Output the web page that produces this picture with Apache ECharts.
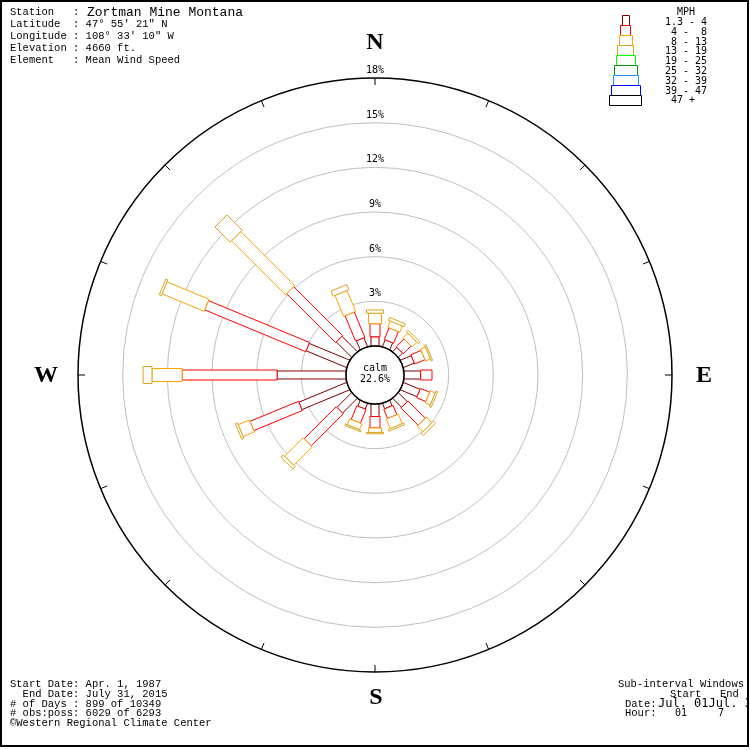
<!DOCTYPE html>
<html><head><meta charset="utf-8">
<script src="https://cdn.jsdelivr.net/npm/echarts@6/dist/echarts.min.js"></script>
<style>html,body{margin:0;padding:0;background:#fff}#c{width:750px;height:750px}</style>
</head><body><div id="c"></div>
<script>
// ---- data ----
const directions = ['N','NNE','NE','ENE','E','ESE','SE','SSE','S','SSW','SW','WSW','W','WNW','NW','NNW'];
const directionAngles = [0,22.5,45,67.5,90,112.5,135,157.5,180,202.5,225,247.5,270,292.5,315,337.5];
const speedClasses = ['1.3 - 4',' 4 -  8',' 8 - 13','13 - 19','19 - 25','25 - 32','32 - 39','39 - 47',' 47 +'];
// percent of observations per direction for each speed class
const mph1to4   = [0.62,0.50,0.40,0.80,1.12,1.22,0.85,0.40,0.84,0.42,1.40,3.48,4.63,2.95,1.46,0.65];
const mph4to8   = [0.88,0.85,0.75,0.75,0.76,0.68,1.65,0.68,0.77,1.00,3.05,3.52,6.38,7.35,4.66,1.85];
const mph8to13  = [0.70,0.45,0.45,0.35,0.00,0.35,0.52,0.70,0.30,0.43,1.75,0.82,2.02,3.05,5.12,1.52];
const mph13to19 = [0.22,0.20,0.15,0.10,0.00,0.12,0.20,0.12,0.09,0.10,0.22,0.15,0.60,0.15,1.44,0.37];
const ringValues = [3,6,9,12,15];
const ringLabels = [3,6,9,12,15,18];
const calmPercent = '22.6%';

// ---- styles ----
const classColors = ['#800000','#ff0000','#ffa500','#daa520','#00ff00','#009900','#1e90ff','#0000ff','#000000'];
const classWidths = [8,10,13,17];
const legendWidths = [7,10,13,16,19,23,25,29,32];

const classSeries = [mph1to4, mph4to8, mph8to13, mph13to19];
const barData = [];
directions.forEach((d, i) => {
  let start = 0;
  classSeries.forEach((arr, k) => {
    const v = arr[i];
    if (v > 0) barData.push([start, start + v, directionAngles[i], k]);
    start += v;
  });
});

const chart = echarts.init(document.getElementById('c'), null, {renderer: 'canvas'});
const monoSans = '10px "DejaVu Sans Mono"';
const mono = '10.5px "Liberation Mono"';

function txt(text, x, y, font, extra) {
  return Object.assign({type: 'text', silent: true, style: Object.assign({
    text: text, x: x, y: y, font: font, fill: '#000',
    textAlign: 'left', align: 'left', textVerticalAlign: 'middle', verticalAlign: 'middle'
  }, extra || {})});
}

const graphics = [];
// header
const hdr = ['Station   : ', 'Latitude  : 47° 55\' 21" N', 'Longitude : 108° 33\' 10" W', 'Elevation : 4660 ft.', 'Element   : Mean Wind Speed'];
const hdrY = [12.5, 24.5, 36.5, 48.5, 60.5];
hdr.forEach((t, i) => graphics.push(txt(t, 10, hdrY[i], mono)));
graphics.push(txt('Zortman Mine Montana', 87, 12.5, '13px "Liberation Mono"'));
// footer left
const ftr = ['Start Date: Apr. 1, 1987', '  End Date: July 31, 2015', '# of Days : 899 of 10349', '# obs:poss: 6029 of 6293', '©Western Regional Climate Center'];
const ftrY = [684, 694, 704, 713.5, 723.5];
ftr.forEach((t, i) => graphics.push(txt(t, 10, ftrY[i], mono)));
// footer right
graphics.push(txt('Sub-interval Windows', 618, 684, mono));
graphics.push(txt('Start', 670, 694, mono));
graphics.push(txt('End', 720, 694, mono));
graphics.push(txt('Date:', 625, 704, mono));
graphics.push(txt('Jul. 01Jul. 31', 658, 704, '12px "DejaVu Sans Mono"'));
graphics.push(txt('Hour:', 625, 713.5, mono));
graphics.push(txt('01', 675, 713.5, monoSans));
graphics.push(txt('7', 718, 713.5, monoSans));
// compass letters
const compassFont = 'bold 24px "Liberation Serif"';
[['N', 375, 43], ['S', 376, 698], ['W', 46, 376], ['E', 704, 376]].forEach(c => {
  graphics.push(txt(c[0], c[1], c[2], compassFont, {textAlign: 'center', align: 'center'}));
});
// legend
graphics.push(txt('  MPH', 665, 12, monoSans));
speedClasses.forEach((s, i) => {
  const w = legendWidths[i];
  graphics.push({type: 'rect', silent: true, shape: {x: Math.round(625 - w / 2) + 0.5, y: 15.5 + i * 10, width: w, height: 10},
    style: {fill: '#fff', stroke: classColors[i], lineWidth: 1}});
  graphics.push(txt(s, 665, 22.5 + i * 9.8, monoSans));
});
// cover anything beyond the frame, then the frame itself
graphics.push({type: 'rect', silent: true, shape: {x: 748, y: 0, width: 2, height: 750}, style: {fill: '#fff'}});
graphics.push({type: 'rect', silent: true, shape: {x: 1, y: 1, width: 747, height: 745}, style: {fill: 'none', stroke: '#000', lineWidth: 2}});

function polarCenter(params) { return [params.coordSys.cx, params.coordSys.cy]; }

const option = {
  backgroundColor: '#fff',
  animation: false,
  polar: {center: [375, 375], radius: [29, 297]},
  angleAxis: {
    type: 'value', min: 0, max: 360, interval: 22.5, startAngle: 90, clockwise: true,
    axisLine: {show: true, lineStyle: {color: '#000', width: 1.5}},
    axisTick: {show: true, inside: true, length: 7, lineStyle: {color: '#000', width: 1}},
    axisLabel: {show: false}, splitLine: {show: false}
  },
  radiusAxis: {
    type: 'value', min: 0, max: 18, interval: 3,
    axisLine: {show: false}, axisTick: {show: false}, axisLabel: {show: false}, splitLine: {show: false}
  },
  graphic: {elements: graphics},
  series: [
    {
      type: 'custom', coordinateSystem: 'polar', silent: true,
      data: ringValues.map(v => [v, 0]),
      encode: {radius: 0, angle: 1},
      renderItem(params, api) {
        const c = polarCenter(params);
        const p = api.coord([api.value(0), 0]);
        const r = Math.hypot(p[0] - c[0], p[1] - c[1]);
        return {type: 'circle', shape: {cx: c[0], cy: c[1], r: r}, style: {fill: 'none', stroke: '#c0c0c0', lineWidth: 1}};
      }
    },
    {
      type: 'custom', coordinateSystem: 'polar', silent: true,
      data: barData,
      encode: {radius: [0, 1], angle: 2},
      renderItem(params, api) {
        const s = api.value(0), e = api.value(1), a = api.value(2), k = api.value(3);
        const p0 = api.coord([s, a]), p1 = api.coord([e, a]);
        const dx = p1[0] - p0[0], dy = p1[1] - p0[1];
        const len = Math.hypot(dx, dy) || 1;
        const nx = -dy / len, ny = dx / len, h = classWidths[k] / 2;
        return {type: 'polygon', shape: {points: [
          [p0[0] + nx * h, p0[1] + ny * h], [p1[0] + nx * h, p1[1] + ny * h],
          [p1[0] - nx * h, p1[1] - ny * h], [p0[0] - nx * h, p0[1] - ny * h]]},
          style: {fill: '#fff', stroke: classColors[k], lineWidth: 1}};
      }
    },
    {
      type: 'custom', coordinateSystem: 'polar', silent: true,
      data: [[0, 0]],
      encode: {radius: 0, angle: 1},
      renderItem(params, api) {
        const c = polarCenter(params);
        const p = api.coord([0, 0]);
        const r = Math.hypot(p[0] - c[0], p[1] - c[1]);
        return {type: 'group', children: [
          {type: 'circle', shape: {cx: c[0], cy: c[1], r: r}, style: {fill: '#fff', stroke: '#000', lineWidth: 1.5}},
          {type: 'text', style: {text: 'calm', x: c[0], y: c[1] - 7, font: monoSans, fill: '#000', textAlign: 'center', align: 'center', textVerticalAlign: 'middle', verticalAlign: 'middle'}},
          {type: 'text', style: {text: calmPercent, x: c[0], y: c[1] + 4, font: monoSans, fill: '#000', textAlign: 'center', align: 'center', textVerticalAlign: 'middle', verticalAlign: 'middle'}}
        ]};
      }
    },
    {
      type: 'custom', coordinateSystem: 'polar', silent: true,
      data: ringLabels.map(v => [v, 0]),
      encode: {radius: 0, angle: 1},
      renderItem(params, api) {
        const v = api.value(0);
        const p = api.coord([v, 0]);
        return {type: 'text', style: {text: v + '%', x: p[0], y: p[1] - 7.5, font: monoSans, fill: '#000', textAlign: 'center', align: 'center', textVerticalAlign: 'middle', verticalAlign: 'middle'}};
      }
    }
  ]
};
chart.setOption(option);
</script>
</body></html>
